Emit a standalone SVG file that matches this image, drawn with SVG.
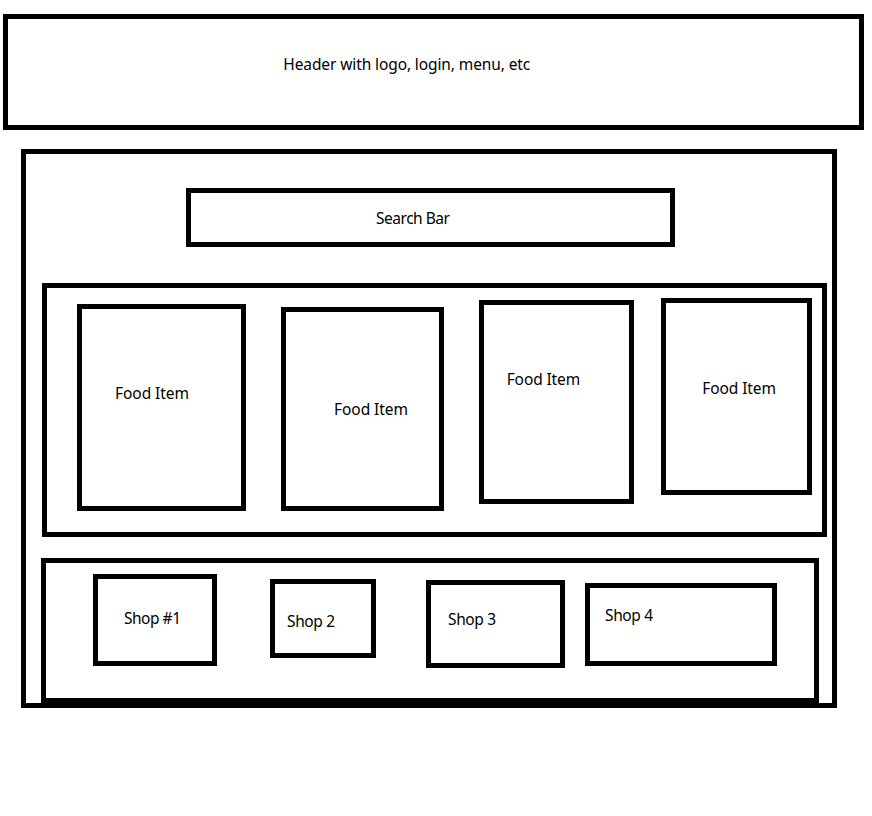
<svg xmlns="http://www.w3.org/2000/svg" width="872" height="816" viewBox="0 0 872 816">
<style>
rect.box{fill:none;stroke:#000;stroke-width:5}
text{font-family:"Noto Sans","Open Sans","DejaVu Sans",sans-serif;font-size:15.5px;fill:#000}
</style>
<rect x="0" y="0" width="872" height="816" fill="#fff"/>
<g id="header"><rect class="box" x="5.5" y="16.5" width="856" height="111"/><text x="283.3" y="70" textLength="247">Header with logo, login, menu, etc</text></g>
<g id="container"><rect class="box" x="23.5" y="151.5" width="811" height="554"/></g>
<g id="search"><rect class="box" x="188.5" y="190.5" width="484" height="54"/><text x="376" y="224" textLength="74">Search Bar</text></g>
<g id="food-panel"><rect class="box" x="44.5" y="285.5" width="780" height="249"/></g>
<g id="food1"><rect class="box" x="79.5" y="306.5" width="164" height="202"/><text x="115" y="399" textLength="74">Food Item</text></g>
<g id="food2"><rect class="box" x="283.5" y="309.5" width="158" height="199"/><text x="334" y="415" textLength="74">Food Item</text></g>
<g id="food3"><rect class="box" x="481.5" y="302.5" width="150" height="199"/><text x="506.7" y="385" textLength="73.5">Food Item</text></g>
<g id="food4"><rect class="box" x="663.5" y="300.5" width="146" height="192"/><text x="702.3" y="394" textLength="73.7">Food Item</text></g>
<g id="shop-panel"><rect class="box" x="43.5" y="560.5" width="773" height="140"/></g>
<g id="shop1"><rect class="box" x="95.5" y="576.5" width="119" height="87"/><text x="124" y="624" textLength="57">Shop #1</text></g>
<g id="shop2"><rect class="box" x="272.5" y="581.5" width="101" height="74"/><text x="287" y="627" textLength="48">Shop 2</text></g>
<g id="shop3"><rect class="box" x="428.5" y="582.5" width="134" height="83"/><text x="448" y="625" textLength="48">Shop 3</text></g>
<g id="shop4"><rect class="box" x="587.5" y="585.5" width="187" height="78"/><text x="605" y="621" textLength="48">Shop 4</text></g>
<g id="connectors"></g>
</svg>
